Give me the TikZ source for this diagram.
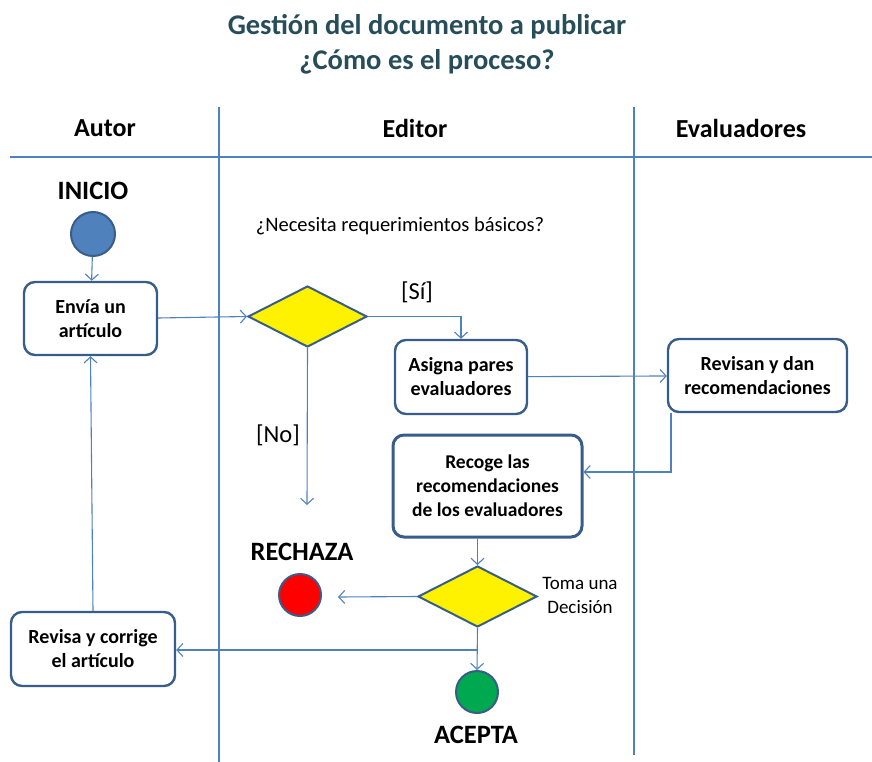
\documentclass[tikz,border=0pt]{standalone}
\usepackage{fontspec}
\setmainfont{Carlito}
\usetikzlibrary{arrows.meta,shapes.geometric}
\definecolor{titc}{RGB}{38,77,89}
\definecolor{lnc}{RGB}{79,129,189}
\definecolor{bdc}{RGB}{56,93,138}
\definecolor{startc}{RGB}{79,129,189}
\definecolor{okc}{RGB}{0,168,80}
\tikzset{
  lane/.style={draw=lnc, line width=1.1pt},
  flow/.style={draw=lnc, line width=1.1pt, -{Straight Barb[length=6pt,width=13pt]}},
  actbox/.style={draw=bdc, line width=2.4pt, rounded corners=11pt, fill=white, align=center,
     font=\fontsize{20}{24}\selectfont\bfseries, inner sep=0pt},
  decis/.style={diamond, draw=bdc, line width=2pt, fill=yellow, inner sep=0pt, aspect=1.95,
     minimum width=119pt, minimum height=61pt},
  termc/.style={circle, draw=bdc, line width=2pt, minimum size=42pt, inner sep=0pt},
  hdr/.style={font=\fontsize{26}{30}\selectfont\bfseries},
  big/.style={font=\fontsize{26.5}{30}\selectfont\bfseries},
  lbl/.style={font=\fontsize{20.5}{24}\selectfont},
  guard/.style={font=\fontsize{24.5}{28}\selectfont},
}
\begin{document}
\begin{tikzpicture}[x=1pt,y=-1pt]
\useasboundingbox (0,0) rectangle (872,762);
% title
\node[font=\fontsize{28.5}{35}\selectfont\bfseries, text=titc, align=center] (title) at (427,44)
  {Gestión del documento a publicar\\¿Cómo es el proceso?};
% swimlanes
\coordinate (h1) at (10,157); \coordinate (h2) at (872,157);
\coordinate (v1t) at (219,107); \coordinate (v1b) at (219,762);
\coordinate (v2t) at (634,107); \coordinate (v2b) at (634,755);
\draw[lane] (h1) -- (h2);
\draw[lane] (v1t) -- (v1b);
\draw[lane] (v2t) -- (v2b);
\node[hdr] (hA) at (105,128) {Autor};
\node[hdr] (hE) at (415,128) {Editor};
\node[hdr] (hV) at (741,128) {Evaluadores};
% nodes
\node[big] (inicio) at (93,191) {INICIO};
\node[termc, fill=startc, minimum size=44pt] (start) at (93,234) {};
\node[actbox, minimum width=133pt, minimum height=73pt] (envia) at (90.5,318.5) {Envía un\\artículo};
\node[decis] (d1) at (307.5,316.5) {};
\node[lbl] (q1) at (400,226) {¿Necesita requerimientos básicos?};
\node[guard] (si) at (417,292) {[Sí]};
\node[actbox, minimum width=132pt, minimum height=74pt] (asigna) at (461,377) {Asigna pares\\evaluadores};
\node[actbox, minimum width=179pt, minimum height=73pt] (revisan) at (757.5,375.5) {Revisan y dan\\recomendaciones};
\node[actbox, line width=3pt, minimum width=189pt, minimum height=102pt,
      font=\fontsize{19.5}{24}\selectfont\bfseries] (recoge) at (487.5,486) {Recoge las\\recomendaciones\\de los evaluadores};
\node[guard] (no) at (278,435) {[No]};
\node[big] (rechaza) at (302,552) {RECHAZA};
\node[termc, fill=red] (rej) at (300,595) {};
\node[decis] (d2) at (477.5,596.5) {};
\node[font=\fontsize{19}{24}\selectfont, align=center] (toma) at (580,595) {Toma una\\Decisión};
\node[actbox, minimum width=164pt, minimum height=74pt] (revisa) at (93,649) {Revisa y corrige\\el artículo};
\node[termc, fill=okc] (acc) at (477,692) {};
\node[big] (acepta) at (476,735) {ACEPTA};
% connectors
\draw[flow] (start) -- (envia);
\draw[flow] (envia.east |- 0,318) -- (d1.west);
\draw[flow] (d1.east) -| (asigna.north);
\draw[flow] (asigna) -- (revisan);
\coordinate (rv) at (671,0);
\draw[flow] (revisan.south -| rv) |- (recoge.east |- 0,472);
\draw[flow] (d1.south) -- (307,505);
\draw[flow] (recoge.south -| d2.north) -- (d2.north);
\draw[flow] (d2.west) -- (338,597);
\coordinate (br) at (478,650);
\draw[flow] (d2.south) -- (acc.north);
\draw[flow] (br) -- (revisa.east |- br);
\draw[flow] (revisa.north) -- (envia.south);
\end{tikzpicture}
\end{document}
